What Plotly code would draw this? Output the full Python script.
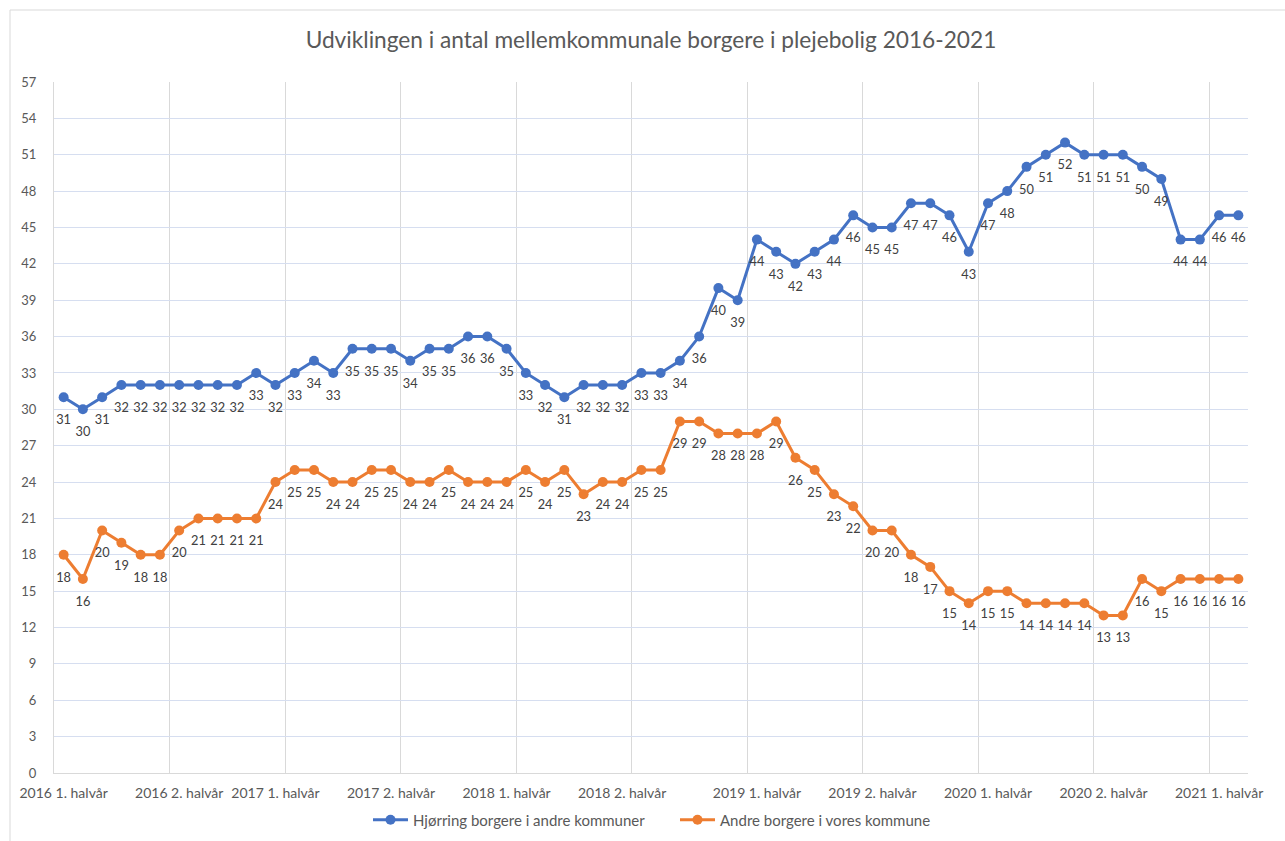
import plotly.graph_objects as go

# ---- data ----
categories = [
    "2016 1. halvår", "", "", "", "", "",
    "2016 2. halvår", "", "", "", "",
    "2017 1. halvår", "", "", "", "", "",
    "2017 2. halvår", "", "", "", "", "",
    "2018 1. halvår", "", "", "", "", "",
    "2018 2. halvår", "", "", "", "", "", "",
    "2019 1. halvår", "", "", "", "", "",
    "2019 2. halvår", "", "", "", "", "",
    "2020 1. halvår", "", "", "", "", "",
    "2020 2. halvår", "", "", "", "", "",
    "2021 1. halvår", "",
]
hjoerring = [31, 30, 31, 32, 32, 32, 32, 32, 32, 32, 33, 32, 33, 34, 33, 35, 35, 35, 34, 35,
             35, 36, 36, 35, 33, 32, 31, 32, 32, 32, 33, 33, 34, 36, 40, 39, 44, 43, 42, 43,
             44, 46, 45, 45, 47, 47, 46, 43, 47, 48, 50, 51, 52, 51, 51, 51, 50, 49, 44, 44,
             46, 46]
andre = [18, 16, 20, 19, 18, 18, 20, 21, 21, 21, 21, 24, 25, 25, 24, 24, 25, 25, 24, 24,
         25, 24, 24, 24, 25, 24, 25, 23, 24, 24, 25, 25, 29, 29, 28, 28, 28, 29, 26, 25,
         23, 22, 20, 20, 18, 17, 15, 14, 15, 15, 14, 14, 14, 14, 13, 13, 16, 15, 16, 16,
         16, 16]
series_names = ["Hjørring borgere i andre kommuner", "Andre borgere i vores kommune"]
title_text = "Udviklingen i antal mellemkommunale borgere i plejebolig 2016-2021"

# ---- styling ----
FONT = "Lato"
BLUE = "#4472C4"
ORANGE = "#ED7D31"
GREY_TXT = "#595959"
LABEL_TXT = "#404040"
BORDER = "#D9D9D9"

n = len(categories)
x = list(range(n))
tick_pos = [i for i, c in enumerate(categories) if c]
tick_txt = [c for c in categories if c]
group = 6
grid_pos = [k - 0.5 for k in range(group, n, group)]

fig = go.Figure()
for name, vals, col in [(series_names[0], hjoerring, BLUE), (series_names[1], andre, ORANGE)]:
    fig.add_trace(go.Scatter(
        x=x, y=vals, name=name, mode="lines+markers",
        line=dict(color=col, width=3),
        marker=dict(color=col, size=10, line=dict(width=0)),
        cliponaxis=False,
    ))
    # data labels below the points
    fig.add_trace(go.Scatter(
        x=x, y=vals, mode="markers+text", text=[str(v) for v in vals],
        textposition="bottom center",
        textfont=dict(family=FONT, size=12.8, color=LABEL_TXT),
        marker=dict(size=26, color="rgba(0,0,0,0)"),
        showlegend=False, hoverinfo="skip", cliponaxis=False,
    ))

W, H = 1285, 841
ml, mr, mt, mb = 54, 37, 82, 68
pw, ph = W - ml - mr, H - mt - mb

fig.update_layout(
    width=W, height=H, autosize=False,
    margin=dict(l=ml, r=mr, t=mt, b=mb, autoexpand=False),
    paper_bgcolor="white", plot_bgcolor="white",
    font=dict(family=FONT, color=GREY_TXT, size=13),
    title=dict(text=title_text, x=0.5, xref="paper", y=1 - 40 / H, yref="container",
               xanchor="center", yanchor="middle",
               font=dict(family=FONT, size=22.7, color=GREY_TXT)),
    showlegend=True,
    legend=dict(orientation="h", x=(368 - ml) / pw, xanchor="left",
                yref="container", y=1 - 820 / H, yanchor="middle",
                itemwidth=35, entrywidth=257, entrywidthmode="pixels",
                font=dict(family=FONT, size=15, color=GREY_TXT),
                bgcolor="rgba(0,0,0,0)", traceorder="normal"),
    xaxis=dict(range=[-0.5, n - 0.5], tickmode="array", tickvals=tick_pos, ticktext=tick_txt,
               showgrid=False, zeroline=False, showline=True, linecolor=BORDER, linewidth=1,
               ticks="", ticklabelstandoff=7, automargin=False,
               tickfont=dict(family=FONT, size=14, color=GREY_TXT),
               minor=dict(tickmode="array", tickvals=grid_pos, showgrid=True,
                          gridcolor=BORDER, gridwidth=1, ticks="")),
    yaxis=dict(range=[0, 57], dtick=3, tick0=0, showgrid=True, gridcolor="#D6DEF0", gridwidth=1,
               zeroline=False, showline=True, linecolor=BORDER, linewidth=1,
               ticks="", ticklabelstandoff=14, automargin=False,
               tickfont=dict(family=FONT, size=13, color=GREY_TXT)),
    hovermode=False,
)

# chart-area border (only left and top edges are inside the picture)
fig.add_shape(type="line", xref="paper", yref="paper",
              x0=(10 - ml) / pw, x1=(10 - ml) / pw,
              y0=(H - mb - 900) / ph, y1=(H - mb - 10) / ph,
              line=dict(color=BORDER, width=1))
fig.add_shape(type="line", xref="paper", yref="paper",
              x0=(10 - ml) / pw, x1=(1400 - ml) / pw,
              y0=(H - mb - 10) / ph, y1=(H - mb - 10) / ph,
              line=dict(color=BORDER, width=1))

fig.write_html("out.html",
               config={"displayModeBar": False},
               post_script="document.body.style.margin='0px';document.body.style.overflow='hidden';")
